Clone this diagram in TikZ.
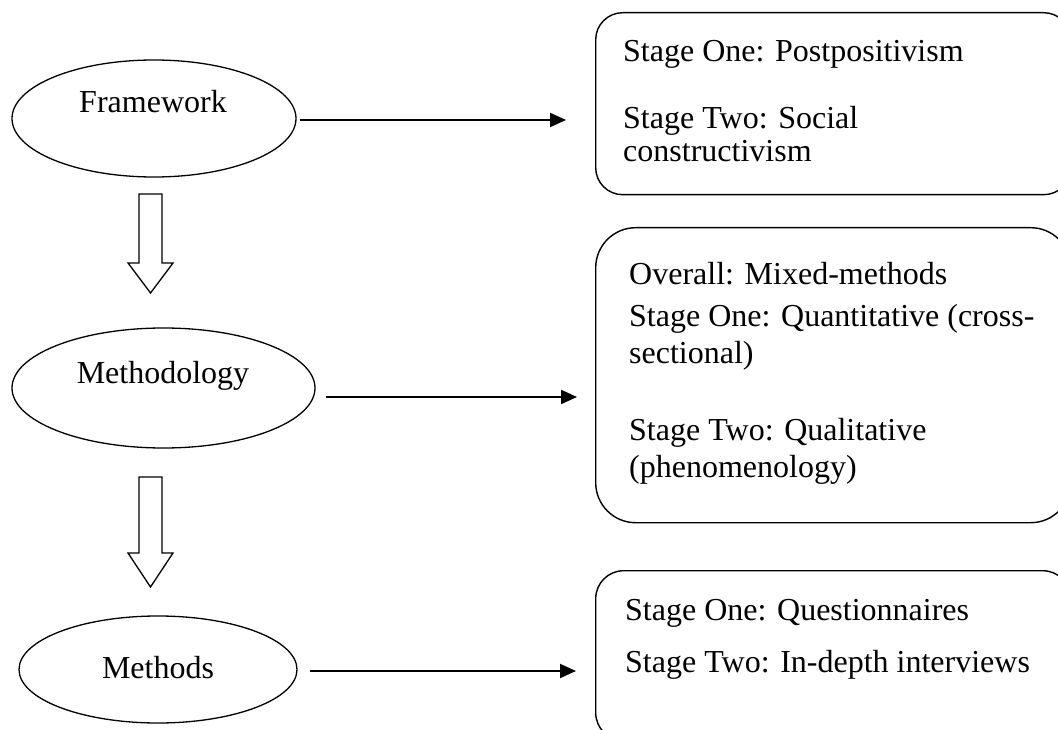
\documentclass[tikz,border=0pt]{standalone}
\usepackage{fontspec}
\setmainfont{Liberation Serif}
\usetikzlibrary{shapes.geometric,arrows.meta}
\begin{document}
\begin{tikzpicture}[x=1pt,y=-1pt,
 ell/.style={draw, ellipse, line width=1.3pt, inner sep=0pt},
 lbl/.style={font=\fontsize{32}{36}\selectfont, inner sep=0pt},
 txt/.style={lbl, anchor=base west},
 box/.style={draw, rectangle, line width=1.4pt, anchor=north west, inner sep=0pt},
 arr/.style={line width=2pt, -{Triangle[length=16pt,width=14pt]}},
 barrow/.style={draw, line width=1.3pt, fill=white, line join=miter}
]
\useasboundingbox (0,0) rectangle (1058,730);
\clip (0,0) rectangle (1058,730);
\fill[white] (0,0) rectangle (1058,730);

% ellipses
\node[ell, minimum width=284pt, minimum height=117pt] (fw) at (154,118.5) {};
\node[lbl, anchor=base] (fwt) at (153,113) {Framework};
\node[ell, minimum width=303pt, minimum height=120pt] (ml) at (163.5,388) {};
\node[lbl, anchor=base] (mlt) at (163,383) {Methodology};
\node[ell, minimum width=278pt, minimum height=107pt] (md) at (158,669.5) {};
\node[lbl, anchor=base] (mdt) at (158,678) {Methods};

% boxes
\node[box, rounded corners=27pt, minimum width=475pt, minimum height=182pt] (b1) at (595,12) {};
\node[box, rounded corners=40pt, minimum width=475pt, minimum height=295pt] (b2) at (595,227) {};
\node[box, rounded corners=28pt, minimum width=475pt, minimum height=170pt] (b3) at (595,570) {};

% box texts
\node[txt] (b1l1) at (623,62) {Stage One: Postpositivism};
\node[txt] (b1l2) at (623,129) {Stage Two: Social};
\node[txt] (b1l3) at (623,162) {constructivism};

\node[txt] (b2l1) at (629,284) {Overall: Mixed-methods};
\node[txt] (b2l2) at (629,326) {Stage One: Quantitative (cross-};
\node[txt] (b2l3) at (629,363) {sectional)};
\node[txt] (b2l4) at (629,440) {Stage Two: Qualitative};
\node[txt] (b2l5) at (629,477) {(phenomenology)};

\node[txt] (b3l1) at (625,620) {Stage One: Questionnaires};
\node[txt] (b3l2) at (625,672) {Stage Two: In-depth interviews};

% horizontal arrows
\draw[arr] ([xshift=3pt,yshift=-1.5pt]fw.east) -- ([xshift=-29pt,yshift=-1.5pt]fw.east -| b1.west);
\draw[arr] ([xshift=10pt,yshift=-9pt]ml.east) -- ([xshift=-18pt,yshift=-9pt]ml.east -| b2.west);
\draw[arr] ([xshift=12pt,yshift=-1.5pt]md.east) -- ([xshift=-19pt,yshift=-1.5pt]md.east -| b3.west);

% block arrows
\draw[barrow] (139,194) -- (162,194) -- (162,263) -- (173,263) -- (150.5,293) -- (128,263) -- (139,263) -- cycle;
\draw[barrow] (139,477) -- (162,477) -- (162,553) -- (173,553) -- (150.5,587) -- (128,553) -- (139,553) -- cycle;
\end{tikzpicture}
\end{document}
